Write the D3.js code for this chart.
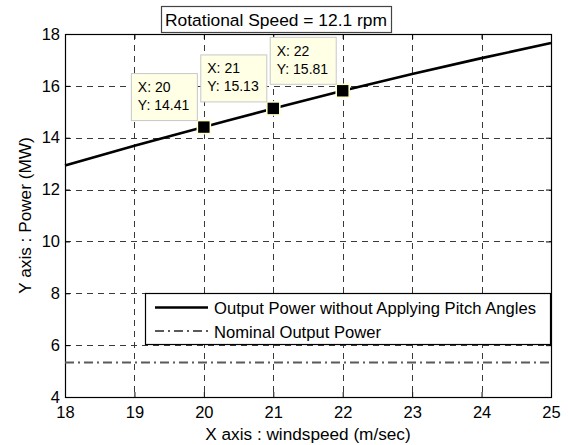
<!DOCTYPE html>
<html>
<head>
<meta charset="utf-8">
<script src="https://cdn.jsdelivr.net/npm/d3@7"></script>
<style>
  html, body { margin: 0; padding: 0; background: #fff; }
  svg { display: block; font-family: "Liberation Sans", Arial, sans-serif; }
</style>
</head>
<body>
<svg id="chart" width="568" height="445"></svg>
<script>
// Wind speed samples (m/sec) and output power (MW) at 12.1 rpm
const windSpeed   = [18, 19, 20, 21, 22, 23, 24, 25];
const outputPower = [12.93, 13.69, 14.41, 15.13, 15.81, 16.46, 17.07, 17.65];
const nominalPower = 5.33;

// Highlighted data tips
const tipSpeed = [20, 21, 22];
const tipPower = [14.41, 15.13, 15.81];

// Axis ticks
const xTicks = [18, 19, 20, 21, 22, 23, 24, 25];
const yTicks = [4, 6, 8, 10, 12, 14, 16, 18];

const titleText = "Rotational Speed = 12.1 rpm";
const xLabel = "X axis : windspeed (m/sec)";
const yLabel = "Y axis : Power (MW)";
const legendLabels = ["Output Power without Applying Pitch Angles", "Nominal Output Power"];

const svg = d3.select("#chart");
const plot = { left: 65, right: 551, top: 34, bottom: 397 };

const x = d3.scaleLinear().domain([18, 25]).range([plot.left, plot.right]);
const y = d3.scaleLinear().domain([4, 18]).range([plot.bottom, plot.top]);

// Grid
const grid = svg.append("g").attr("stroke", "#3a3a3a").attr("stroke-width", 1)
  .attr("stroke-dasharray", "6,5").attr("shape-rendering", "crispEdges");
grid.selectAll("line.gx").data(xTicks.slice(1, -1)).join("line")
  .attr("x1", d => Math.round(x(d)) + 0.5).attr("x2", d => Math.round(x(d)) + 0.5)
  .attr("y1", plot.top).attr("y2", plot.bottom);
grid.selectAll("line.gy").data(yTicks.slice(1, -1)).join("line")
  .attr("y1", d => Math.round(y(d)) + 0.5).attr("y2", d => Math.round(y(d)) + 0.5)
  .attr("x1", plot.left).attr("x2", plot.right);

// Axes (inward ticks, box frame)
const tickFont = 16.5;
const labelFont = 17.2;
svg.append("g").attr("transform", `translate(0,${plot.bottom})`)
  .call(d3.axisBottom(x).tickValues(xTicks).tickSize(-5).tickPadding(9).tickFormat(d3.format("d")));
svg.append("g").attr("transform", `translate(${plot.left},0)`)
  .call(d3.axisLeft(y).tickValues(yTicks).tickSize(-5).tickPadding(5).tickFormat(d3.format("d")));
svg.append("g").attr("transform", `translate(0,${plot.top})`)
  .call(d3.axisTop(x).tickValues(xTicks).tickSize(-5).tickFormat(""));
svg.append("g").attr("transform", `translate(${plot.right},0)`)
  .call(d3.axisRight(y).tickValues(yTicks).tickSize(-5).tickFormat(""));
svg.selectAll(".domain").attr("stroke", "#000");
svg.selectAll(".tick line").attr("stroke", "#000");
svg.selectAll(".tick text").attr("fill", "#000").attr("font-size", tickFont)
  .attr("font-family", "Liberation Sans, Arial, sans-serif");
svg.append("rect").attr("x", plot.left + 0.5).attr("y", plot.top + 0.5)
  .attr("width", plot.right - plot.left).attr("height", plot.bottom - plot.top)
  .attr("fill", "none").attr("stroke", "#000").attr("stroke-width", 1.2);

// Nominal power line
svg.append("line")
  .attr("x1", x(18)).attr("x2", x(25))
  .attr("y1", y(nominalPower)).attr("y2", y(nominalPower))
  .attr("stroke", "#5a5a5a").attr("stroke-width", 2.2)
  .attr("stroke-dasharray", "9,4,2,4");

// Output power curve
const pts = windSpeed.map((w, i) => [w, outputPower[i]]);
svg.append("path").datum(pts)
  .attr("fill", "none").attr("stroke", "#000").attr("stroke-width", 2.6)
  .attr("d", d3.line().x(d => x(d[0])).y(d => y(d[1])).curve(d3.curveMonotoneX));

// Data tip markers
svg.selectAll("rect.marker").data(tipSpeed).join("rect")
  .attr("x", d => x(d) - 6.5).attr("y", (d, i) => y(tipPower[i]) - 6.5)
  .attr("width", 13).attr("height", 13)
  .attr("fill", "#000").attr("stroke", "#ffffcc").attr("stroke-width", 1.6);

// Data tip boxes
const tips = svg.selectAll("g.tip").data(tipSpeed).join("g")
  .attr("transform", (d, i) => `translate(${x(d) - 7 - 66},${y(tipPower[i]) - 7 - 47})`);
tips.append("rect").attr("x", 0.5).attr("y", 0.5).attr("width", 66).attr("height", 47)
  .attr("fill", "#ffffe6").attr("stroke", "#c8c8c8").attr("stroke-width", 1);
tips.append("text").attr("x", 7).attr("y", 19).attr("font-size", 14).attr("fill", "#000")
  .text(d => "X: " + d);
tips.append("text").attr("x", 7).attr("y", 37).attr("font-size", 14).attr("fill", "#000")
  .text((d, i) => "Y: " + d3.format(".2f")(tipPower[i]));

// Legend
const lg = svg.append("g");
lg.append("rect").attr("x", 145.5).attr("y", 293.5).attr("width", 405).attr("height", 51)
  .attr("fill", "#fff").attr("stroke", "#000").attr("stroke-width", 1.2);
lg.append("line").attr("x1", 155).attr("x2", 208).attr("y1", 307.5).attr("y2", 307.5)
  .attr("stroke", "#000").attr("stroke-width", 2.6);
lg.append("line").attr("x1", 155).attr("x2", 208).attr("y1", 331).attr("y2", 331)
  .attr("stroke", "#5a5a5a").attr("stroke-width", 2.2).attr("stroke-dasharray", "9,4,2,4");
lg.selectAll("text").data(legendLabels).join("text")
  .attr("x", 214).attr("y", (d, i) => 313.5 + i * 24.5)
  .attr("font-size", 16.6).attr("fill", "#000").text(d => d);

// Title box
const tcx = (161 + 391) / 2;
svg.append("rect").attr("x", 161.5).attr("y", 6.5).attr("width", 230).attr("height", 26)
  .attr("fill", "#fff").attr("stroke", "#444").attr("stroke-width", 1.2);
svg.append("text").attr("x", tcx).attr("y", 25.5).attr("text-anchor", "middle")
  .attr("font-size", 17.4).attr("fill", "#000").text(titleText);

// Axis labels
svg.append("text").attr("x", (plot.left + plot.right) / 2).attr("y", 440)
  .attr("text-anchor", "middle").attr("font-size", labelFont).attr("fill", "#000").text(xLabel);
svg.append("text").attr("transform", `translate(31,${(plot.top + plot.bottom) / 2}) rotate(-90)`)
  .attr("text-anchor", "middle").attr("font-size", labelFont).attr("fill", "#000").text(yLabel);
</script>
</body>
</html>
